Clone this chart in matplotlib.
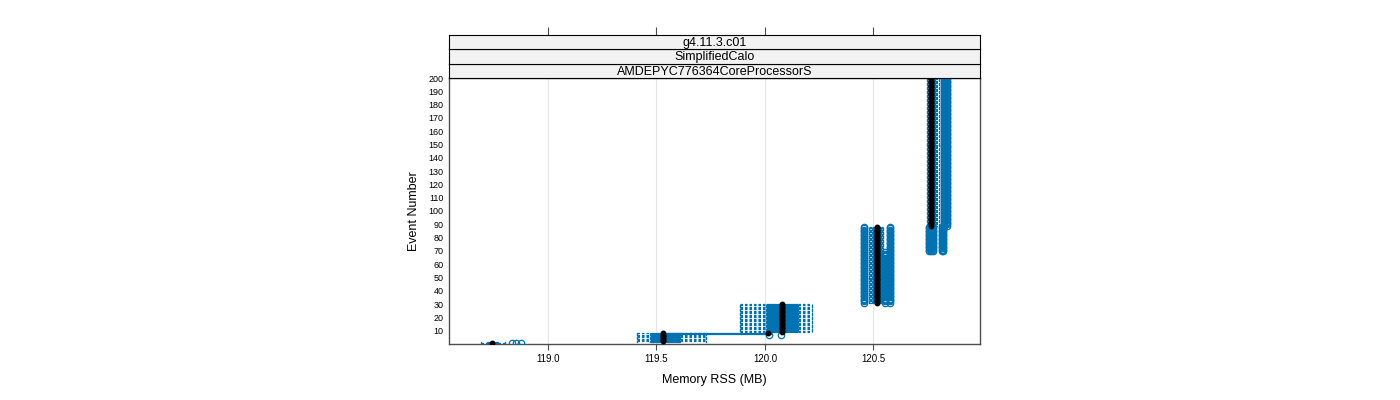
import numpy as np
import matplotlib
matplotlib.use('Agg')
import matplotlib.pyplot as plt
from matplotlib.patches import Rectangle

plt.rcParams['font.family'] = ['Liberation Sans', 'DejaVu Sans']

# Box-and-whisker groups: events first..last share the same summary (MB)
box_first = [1, 2, 8, 9, 31, 89]
box_last = [1, 8, 8, 30, 88, 200]
whisker_lo = [118.69, 119.41, 119.53, 119.885, 120.478, 120.745]
box_q1 = [118.72, 119.47, 119.55, 120.005, 120.495, 120.755]
box_med = [118.742, 119.53, 120.015, 120.078, 120.515, 120.765]
box_q3 = [118.77, 119.61, 120.02, 120.15, 120.535, 120.782]
whisker_hi = [118.80, 119.73, 120.03, 120.215, 120.545, 120.80]

# Outlier groups: events first..last share the same outlying values (MB)
out_first = [1, 7, 31, 31, 70, 89]
out_last = [1, 7, 88, 69, 88, 200]
out_values = [
    [118.835, 118.855, 118.875],
    [120.02, 120.075],
    [120.458, 120.575],
    [120.553],
    [120.757, 120.765, 120.775, 120.815, 120.822],
    [120.825, 120.838],
]

strip_labels = ['AMDEPYC776364CoreProcessorS', 'SimplifiedCalo', 'g4.11.3.c01']
x_ticks = [119.0, 119.5, 120.0, 120.5]
y_ticks = list(range(10, 201, 10))

blue = '#0072B2'
frame = '#4d4d4d'

fig = plt.figure(figsize=(14, 4), dpi=100)
ax = fig.add_axes([449 / 1400, 1 - 344 / 400, 531 / 1400, 266 / 400])
ax.set_xlim(118.544, 120.991)
ax.set_ylim(0, 200)

for xt in x_ticks:
    ax.axvline(xt, color='#e6e6e6', linewidth=0.8, zorder=0)

half = 0.25
for i in range(len(box_first)):
    for ev in range(box_first[i], box_last[i] + 1):
        # whiskers (dashed) and caps
        ax.plot([whisker_lo[i], box_q1[i]], [ev, ev], color=blue, lw=0.9,
                linestyle=(0, (2, 1.6)), zorder=2)
        ax.plot([box_q3[i], whisker_hi[i]], [ev, ev], color=blue, lw=0.9,
                linestyle=(0, (2, 1.6)), zorder=2)
        ax.plot([whisker_lo[i]] * 2, [ev - half, ev + half], color=blue, lw=0.9, zorder=2)
        ax.plot([whisker_hi[i]] * 2, [ev - half, ev + half], color=blue, lw=0.9, zorder=2)
        ax.add_patch(Rectangle((box_q1[i], ev - half), box_q3[i] - box_q1[i], 2 * half,
                               fill=False, edgecolor=blue, lw=0.9, zorder=2))
        ax.plot(box_med[i], ev, 'o', color='black', markersize=3.2, zorder=4)

for i in range(len(out_first)):
    evs = np.arange(out_first[i], out_last[i] + 1)
    for v in out_values[i]:
        ax.plot([v] * len(evs), evs, 'o', markerfacecolor='none', markeredgecolor=blue,
                markersize=4.6, markeredgewidth=0.9, linestyle='none', zorder=3)

ax.set_xticks(x_ticks)
ax.set_xticklabels([f'{t:.1f}' for t in x_ticks])
ax.set_yticks(y_ticks)
ax.tick_params(axis='both', labelsize=7, colors=frame, labelcolor='black', length=4, width=0.8)
ax.tick_params(axis='y', labelsize=6.5, length=0, pad=4)
for s in ax.spines.values():
    s.set_color(frame)
    s.set_linewidth(1)
ax.set_xlabel('Memory RSS (MB)', fontsize=9, labelpad=7)
ax.set_ylabel('Event Number', fontsize=9, labelpad=6)

# strips on top
strip_h = 14.5 / 400
for k, lab in enumerate(strip_labels):
    sax = fig.add_axes([449 / 1400, 1 - 78 / 400 + k * strip_h, 531 / 1400, strip_h])
    sax.set_facecolor('#f2f2f2')
    sax.set_xlim(ax.get_xlim())
    sax.set_yticks([])
    for s in sax.spines.values():
        s.set_color('black')
        s.set_linewidth(0.8)
    sax.text(0.5, 0.42, lab, transform=sax.transAxes, ha='center', va='center', fontsize=9)
    if k == len(strip_labels) - 1:
        sax.xaxis.tick_top()
        sax.set_xticks(x_ticks)
        sax.set_xticklabels([])
        sax.tick_params(axis='x', length=6, width=0.8, colors=frame)
    else:
        sax.set_xticks([])

fig.savefig('out.png', dpi=100)
